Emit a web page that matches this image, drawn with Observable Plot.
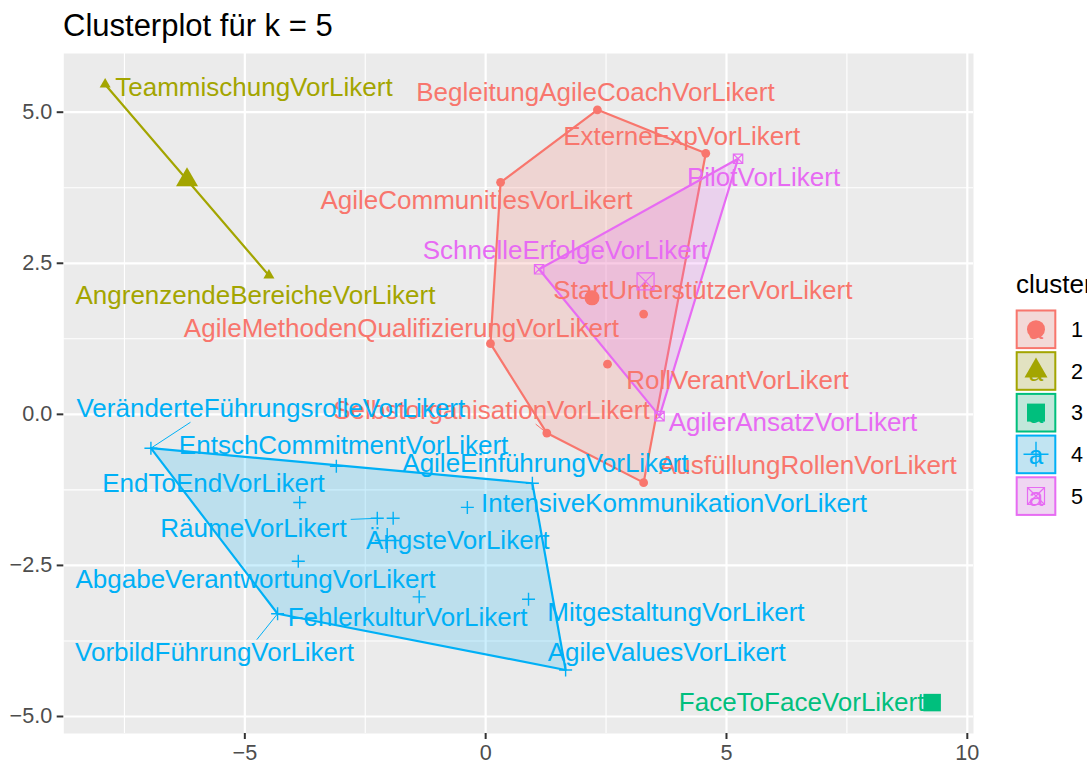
<!DOCTYPE html>
<html>
<head>
<meta charset="utf-8">
<script src="https://cdn.jsdelivr.net/npm/d3@7"></script>
<script src="https://cdn.jsdelivr.net/npm/@observablehq/plot@0.6"></script>
<style>
  html, body { margin: 0; padding: 0; background: #ffffff; overflow: hidden; }
  #wrap { position: relative; width: 1087px; height: 763px; overflow: hidden;
          font-family: "Liberation Sans", Arial, Helvetica, sans-serif; background: #fff; }
  #chart { position: absolute; left: 0; top: 0; }
  #title { position: absolute; left: 63px; top: 10px; font-size: 31px; line-height: 31px; color: #000; white-space: nowrap; }
  #legend { position: absolute; left: 0; top: 0; pointer-events: none; }
</style>
</head>
<body>
<div id="wrap">
  <div id="chart"></div>
  <div id="title">Clusterplot für k = 5</div>
  <svg id="legend" width="1087" height="763"></svg>
</div>
<script>
// ---------------- data ----------------
const varNames = [
  "BegleitungAgileCoachVorLikert", "ExterneExpVorLikert", "AgileCommunitiesVorLikert",
  "AgileMethodenQualifizierungVorLikert", "StartUnterstützerVorLikert", "RollVerantVorLikert",
  "SelbstorganisationVorLikert", "AusfüllungRollenVorLikert",
  "TeammischungVorLikert", "AngrenzendeBereicheVorLikert",
  "FaceToFaceVorLikert",
  "VeränderteFührungsrolleVorLikert", "EntschCommitmentVorLikert", "AgileEinführungVorLikert",
  "EndToEndVorLikert", "IntensiveKommunikationVorLikert", "RäumeVorLikert", "ÄngsteVorLikert",
  "AbgabeVerantwortungVorLikert", "FehlerkulturVorLikert", "VorbildFührungVorLikert",
  "MitgestaltungVorLikert", "AgileValuesVorLikert",
  "SchnelleErfolgeVorLikert", "PilotVorLikert", "AgilerAnsatzVorLikert"
];
const clusterOf = [1,1,1,1,1,1,1,1, 2,2, 3, 4,4,4,4,4,4,4,4,4,4,4,4, 5,5,5];
const dim1 = [2.32, 4.57, 0.31, 0.10, 3.28, 2.53, 1.27, 3.28,
              -7.90, -4.50,
              9.27,
              -6.95, -3.10, 0.97, -3.86, -0.38, -2.25, -1.92, -3.89, -1.38, -4.32, 0.89, 1.66,
              1.11, 5.24, 3.61];
const dim2 = [5.04, 4.32, 3.84, 1.17, 1.66, 0.83, -0.31, -1.13,
              5.46, 2.30,
              -4.77,
              -0.56, -0.86, -1.14, -1.46, -1.54, -1.72, -1.72, -2.43, -3.02, -3.30, -3.06, -4.23,
              2.40, 4.23, -0.03];
// repelled label positions (data units)
const labelDim1 = [2.28, 4.07, -0.19, -1.75, 4.51, 5.23, 0.12, 6.69,
                   -4.81, -4.78,
                   6.56,
                   -4.46, -2.95, 1.24, -5.65, 3.91, -4.82, -0.58, -4.78, -1.62, -5.63, 3.95, 3.76,
                   1.65, 5.77, 6.38];
const labelDim2 = [5.33, 4.60, 3.53, 1.41, 2.04, 0.56, 0.06, -0.85,
                   5.41, 1.97,
                   -4.77,
                   0.09, -0.52, -0.82, -1.14, -1.48, -1.89, -2.09, -2.74, -3.36, -3.95, -3.29, -3.95,
                   2.71, 3.91, -0.13];
// labels whose connector segment is visible
const segmentLabels = ["VeränderteFührungsrolleVorLikert", "RäumeVorLikert",
                       "VorbildFührungVorLikert", "SelbstorganisationVorLikert"];
const clusters = [1, 2, 3, 4, 5];
const xMajor = [-5, 0, 5, 10];
const xMinor = [-7.5, -2.5, 2.5, 7.5];
const yMajor = [-5, -2.5, 0, 2.5, 5];
const yMinor = [-3.75, -1.25, 1.25, 3.75];

// ---------------- styles ----------------
const palette = {1: "#F8766D", 2: "#A3A500", 3: "#00BF7D", 4: "#00B0F6", 5: "#E76BF3"};
const FONT = '"Liberation Sans", Arial, Helvetica, sans-serif';
const LABEL_FS = 26;

const rad = size => Math.sqrt(size / Math.PI);
const symTriangle = {draw(c, s) { const r = rad(s); c.moveTo(0, -1.155 * r); c.lineTo(r, 0.577 * r); c.lineTo(-r, 0.577 * r); c.closePath(); }};
const symSquare = {draw(c, s) { const r = rad(s); c.rect(-r, -r, 2 * r, 2 * r); }};
const symPlus = {draw(c, s) { const r = rad(s); c.moveTo(-r, 0); c.lineTo(r, 0); c.moveTo(0, -r); c.lineTo(0, r); }};
const symBoxX = {draw(c, s) { const r = rad(s); c.rect(-r, -r, 2 * r, 2 * r); c.moveTo(-r, -r); c.lineTo(r, r); c.moveTo(r, -r); c.lineTo(-r, r); }};
const shapeStyle = {
  1: {symbol: d3.symbolCircle, filled: true, r: 4.4, rc: 7.5, rl: 9, sw: 0},
  2: {symbol: symTriangle, filled: true, r: 5.5, rc: 11, rl: 11.5, sw: 0},
  3: {symbol: symSquare, filled: true, r: 4.5, rc: 8.75, rl: 9, sw: 0},
  4: {symbol: symPlus, filled: false, r: 6.5, rc: 12.5, rl: 12.5, sw: 1.4},
  5: {symbol: symBoxX, filled: false, r: 4.7, rc: 8.5, rl: 8.5, sw: 1.2}
};

// ---------------- derived ----------------
const pts = varNames.map((n, i) => ({name: n, cluster: clusterOf[i], x: dim1[i], y: dim2[i], lx: labelDim1[i], ly: labelDim2[i]}));
const centroids = clusters.map(c => {
  const p = pts.filter(d => d.cluster === c);
  return {cluster: c, x: d3.mean(p, d => d.x), y: d3.mean(p, d => d.y)};
});
const expand = ext => { const p = (ext[1] - ext[0]) * 0.05; return [ext[0] - p, ext[1] + p]; };
const xDomain = expand(d3.extent(dim1));
const yDomain = expand(d3.extent(dim2));

const W = 1087, H = 763;
const M = {left: 63.3, right: 114, top: 53, bottom: 30};

function hullMarks() {
  const marks = [];
  for (const c of clusters) {
    const p = pts.filter(d => d.cluster === c).map(d => [d.x, d.y]);
    if (p.length >= 3) {
      const hull = d3.polygonHull(p);
      marks.push(Plot.line(hull, {x: d => d[0], y: d => d[1], curve: "linear-closed",
        fill: palette[c], fillOpacity: 0.2, stroke: palette[c], strokeWidth: 2.2}));
    } else if (p.length === 2) {
      marks.push(Plot.line(p, {x: d => d[0], y: d => d[1], stroke: palette[c], strokeWidth: 2.2}));
    }
  }
  return marks;
}

function dotMarks(data, key) {
  return clusters.map(c => {
    const st = shapeStyle[c];
    return Plot.dot(data.filter(d => d.cluster === c), {
      x: "x", y: "y", symbol: st.symbol, r: st[key],
      fill: st.filled ? palette[c] : "none",
      stroke: st.filled ? "none" : palette[c],
      strokeWidth: st.sw || 1
    });
  });
}

function build(extra) {
  return Plot.plot({
    width: W, height: H,
    marginLeft: M.left, marginRight: M.right, marginTop: M.top, marginBottom: M.bottom,
    style: {fontFamily: FONT, background: "transparent", overflow: "visible"},
    x: {domain: xDomain, label: null},
    y: {domain: yDomain, label: null},
    color: {type: "identity"},
    marks: [
      Plot.frame({fill: "#EBEBEB", stroke: "none"}),
      Plot.ruleX(xMinor, {stroke: "#FFFFFF", strokeWidth: 1.1}),
      Plot.ruleY(yMinor, {stroke: "#FFFFFF", strokeWidth: 1.1}),
      Plot.ruleX(xMajor, {stroke: "#FFFFFF", strokeWidth: 2.2}),
      Plot.ruleY(yMajor, {stroke: "#FFFFFF", strokeWidth: 2.2}),
      ...hullMarks(),
      ...dotMarks(pts, "r"),
      ...extra,
      Plot.text(pts, {x: "lx", y: "ly", text: "name", fill: d => palette[d.cluster],
        fontSize: LABEL_FS, textAnchor: "middle", lineAnchor: "middle"}),
      ...dotMarks(centroids, "rc"),
      Plot.axisX({ticks: xMajor, tickFormat: d3.format("d"), tickSize: 6, tickPadding: 5,
        fontSize: 21.6, stroke: "#333333", strokeWidth: 2, fill: "#4D4D4D", label: null}),
      Plot.axisY({ticks: yMajor, tickFormat: d3.format(".1f"), tickSize: 6.6, tickPadding: 5,
        fontSize: 21.6, stroke: "#333333", strokeWidth: 2, fill: "#4D4D4D", label: null})
    ]
  });
}

// first pass: get the scales, then compute connector segments in pixel space
const first = build([]);
const X = first.scale("x"), Y = first.scale("y");
const ctx = document.createElement("canvas").getContext("2d");
ctx.font = `${LABEL_FS}px ${FONT}`;
const clamp = (v, a, b) => Math.max(a, Math.min(b, v));
const segs = pts.filter(d => segmentLabels.includes(d.name)).map(d => {
  const p = [X.apply(d.x), Y.apply(d.y)];
  const c = [X.apply(d.lx), Y.apply(d.ly)];
  const w = ctx.measureText(d.name).width, h = LABEL_FS * 0.72, pad = 4;
  const x0 = c[0] - w / 2 - pad, x1 = c[0] + w / 2 + pad, y0 = c[1] - h / 2 - pad, y1 = c[1] + h / 2 + pad;
  const near = [clamp(p[0], x0, x1), clamp(p[1], y0, y1)];
  const dx = c[0] - p[0], dy = c[1] - p[1];
  const tx = dx === 0 ? -Infinity : ((dx > 0 ? x0 : x1) - p[0]) / dx;
  const ty = dy === 0 ? -Infinity : ((dy > 0 ? y0 : y1) - p[1]) / dy;
  const t = Math.max(0, tx, ty);
  const inter = [p[0] + t * dx, p[1] + t * dy];
  const e = [(near[0] + inter[0]) / 2, (near[1] + inter[1]) / 2];
  return {cluster: d.cluster, x1: d.x, y1: d.y, x2: X.invert(e[0]), y2: Y.invert(e[1])};
});

const plot = build([
  Plot.link(segs, {x1: "x1", y1: "y1", x2: "x2", y2: "y2", stroke: d => palette[d.cluster], strokeWidth: 1})
]);
document.getElementById("chart").append(plot);

// ---------------- legend ----------------
const lg = d3.select("#legend").attr("font-family", FONT);
lg.append("text").attr("x", 1016).attr("y", 293).attr("font-size", 26).attr("fill", "#000").text("cluster");
clusters.forEach((c, i) => {
  const y0 = 309.5 + i * 41.7, cx = 1036, cy = y0 + 19.7;
  const st = shapeStyle[c];
  const g = lg.append("g");
  g.append("rect").attr("x", 1015.7).attr("y", y0).attr("width", 40.6).attr("height", 39.6).attr("fill", "#F2F2F2");
  g.append("rect").attr("x", 1016.7).attr("y", y0 + 1).attr("width", 38.6).attr("height", 37.6)
    .attr("fill", palette[c]).attr("fill-opacity", 0.2).attr("stroke", palette[c]).attr("stroke-width", 2);
  g.append("text").attr("x", cx).attr("y", cy + 10).attr("text-anchor", "middle").attr("font-size", 26)
    .attr("fill", palette[c]).text("a");
  g.append("path").attr("transform", `translate(${cx},${cy})`)
    .attr("d", d3.symbol(st.symbol, st.rl * st.rl * Math.PI)())
    .attr("fill", st.filled ? palette[c] : "none")
    .attr("stroke", st.filled ? "none" : palette[c])
    .attr("stroke-width", st.sw || 1);
  g.append("text").attr("x", 1071).attr("y", cy + 7.7).attr("font-size", 21.6).attr("fill", "#000").text(String(c));
});
</script>
</body>
</html>
